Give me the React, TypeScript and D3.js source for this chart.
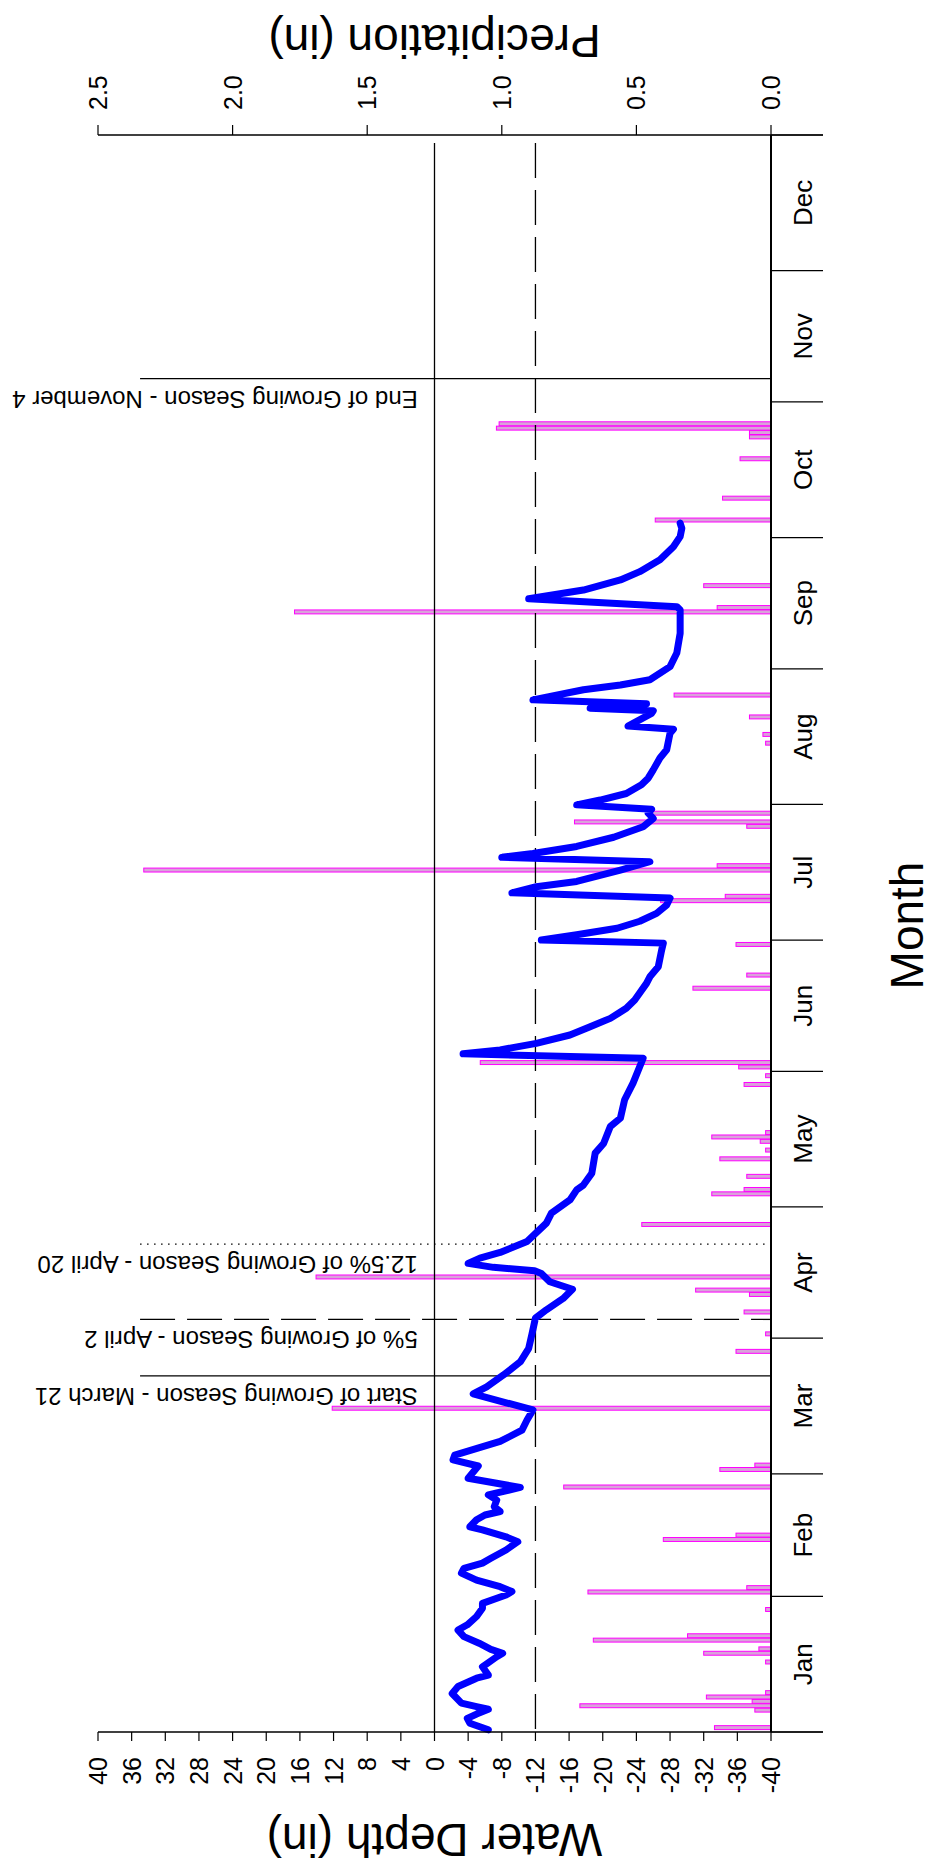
import { useEffect, useRef } from "react";
import * as d3 from "d3";

const months = ["Jan", "Feb", "Mar", "Apr", "May", "Jun", "Jul", "Aug", "Sep", "Oct", "Nov", "Dec"];
const depthTicks = [40, 36, 32, 28, 24, 20, 16, 12, 8, 4, 0, -4, -8, -12, -16, -20, -24, -28, -32, -36, -40];
const precipTicks = [0, 0.5, 1.0, 1.5, 2.0, 2.5];

// water depth line, day of year (0 = Jan 1) and depth in inches
const depthDays = [
  0.5, 2.0, 3.1, 4.1, 5.2, 5.8, 6.6, 8.8, 10.4, 12.3, 13.0, 14.9, 17.2, 18.0, 18.9, 20.3, 21.8, 23.3, 24.5, 26.4,
  28.3, 29.4, 31.3, 32.1, 33.2, 34.7, 36.3, 37.4, 38.6, 39.7, 41.6, 43.5, 44.6, 46.2, 46.9, 48.5, 49.6, 50.4, 51.5, 53.0,
  54.2, 55.9, 58.0, 60.8, 62.2, 63.3, 66.4, 69.0, 71.3, 73.6, 77.3, 78.9, 81.6, 84.6, 87.7, 91.1, 94.6, 96.5, 99.1, 101.2,
  102.9, 104.8, 105.4, 106.2, 107.1, 108.3, 109.6, 112.1, 116.3, 118.6, 121.6, 123.9, 125.0, 127.7, 132.3, 134.5, 138.4, 140.3, 144.5, 148.3,
  154.0, 155.0, 155.9, 157.4, 159.3, 161.2, 163.1, 165.4, 167.3, 171.1, 172.6, 174.9, 178.7, 180.3, 181.0, 182.2, 183.7, 185.3, 187.1, 189.0,
  190.6, 191.8, 193.2, 194.4, 197.0, 198.9, 199.9, 200.8, 202.4, 204.5, 206.9, 208.8, 210.0, 210.9, 211.9, 213.0, 214.5, 216.5, 218.0, 219.9,
  222.6, 224.5, 228.3, 229.2, 229.9, 232.8, 233.4, 234.0, 235.0, 235.9, 238.2, 239.3, 240.5, 243.5, 246.6, 251.1, 256.5, 257.2, 259.0, 261.0,
  263.3, 265.2, 267.9, 270.9, 273.2, 275.1, 276.3,
];
const depthValues = [
  -6.4, -4.2, -3.9, -5.0, -6.4, -5.0, -3.2, -2.1, -2.8, -5.0, -6.4, -5.7, -7.4, -8.1, -6.7, -5.3, -3.5, -2.8, -3.9, -5.0,
  -5.7, -5.7, -8.5, -9.2, -7.8, -5.0, -3.2, -3.5, -5.7, -6.7, -8.5, -9.9, -8.5, -5.7, -4.2, -5.0, -6.0, -7.8, -7.1, -7.4,
  -6.4, -10.2, -4.0, -5.2, -2.2, -2.4, -7.8, -10.4, -11.0, -11.7, -4.6, -6.2, -8.2, -10.2, -11.2, -11.6, -12.0, -13.3, -15.3, -16.4,
  -13.7, -12.7, -11.9, -7.0, -4.0, -5.4, -7.8, -11.0, -13.3, -13.9, -16.1, -16.9, -17.7, -18.7, -19.1, -20.1, -20.9, -22.1, -22.6, -23.6,
  -24.8, -3.4, -7.8, -12.1, -16.1, -18.5, -20.9, -22.8, -23.8, -25.2, -25.6, -26.6, -27.0, -27.2, -12.7, -16.9, -21.7, -24.4, -26.4, -27.6,
  -28.0, -9.2, -12.1, -16.9, -22.1, -25.6, -8.0, -11.7, -16.9, -21.3, -24.8, -26.0, -25.4, -25.8, -16.9, -19.7, -22.8, -24.6, -25.4, -26.0,
  -26.8, -27.6, -28.0, -28.4, -23.0, -25.8, -26.0, -18.5, -25.2, -11.7, -17.7, -22.1, -25.6, -28.0, -28.8, -29.2, -29.2, -28.8, -11.2, -17.7,
  -22.1, -24.4, -26.8, -28.4, -29.2, -29.4, -29.2,
];

// daily precipitation, day of year and inches
const rainDays = [
  1, 5, 6, 7, 8, 9, 16, 18, 19, 21, 22, 28, 32, 33, 44, 45, 56, 60, 61, 74,
  87, 91, 96, 100, 101, 104, 116, 123, 124, 127, 131, 133, 135, 136, 137, 148, 150, 152, 153, 170,
  173, 180, 190, 191, 197, 198, 207, 208, 210, 226, 228, 232, 237, 256, 257, 262, 277, 282, 291, 296,
  297, 298, 299,
];
const rainInches = [
  0.21, 0.06, 0.71, 0.07, 0.24, 0.02, 0.02, 0.25, 0.045, 0.66, 0.31, 0.02, 0.68, 0.09, 0.40, 0.13, 0.77, 0.19, 0.06, 1.63,
  0.13, 0.02, 0.10, 0.08, 0.28, 1.69, 0.48, 0.22, 0.10, 0.09, 0.19, 0.02, 0.04, 0.22, 0.02, 0.10, 0.02, 0.12, 1.08, 0.29,
  0.09, 0.13, 0.41, 0.17, 2.33, 0.20, 0.09, 0.73, 0.44, 0.02, 0.03, 0.08, 0.36, 1.77, 0.20, 0.25, 0.43, 0.18, 0.115, 0.08,
  0.08, 1.02, 1.01,
];

const seasonLabels = [
  "Start of Growing Season - March 21",
  "5% of Growing Season - April 2",
  "12.5% of Growing Season - April 20",
  "End of Growing Season - November 4",
];
const seasonDays = [81.4, 94.3, 111.5, 309.3];
const seasonDash = ["none", "35,12", "1.5,5.5", "none"];

const W = 933;
const H = 1867;
const FONT = "'Liberation Sans', Arial, Helvetica, sans-serif";
const DAY0 = Date.UTC(2023, 0, 1);
const toDate = (d: number) => new Date(DAY0 + d * 86400000);

const App = () => {
  const ref = useRef<SVGSVGElement | null>(null);

  useEffect(() => {
    const svg = d3.select(ref.current);
    svg.selectAll("*").remove();

    // the chart is laid on its side: months run up the page, depth runs left to right
    const left = 98;
    const right = 771;
    const top = 135;
    const bottom = 1732;
    const tickEnd = 823;

    const y = d3
      .scaleUtc()
      .domain([new Date(DAY0), new Date(Date.UTC(2024, 0, 1))])
      .range([bottom, top]);
    const xDepth = d3.scaleLinear().domain([40, -40]).range([left, right]);
    const xRain = d3.scaleLinear().domain([0, 2.5]).range([right, left]);

    const g = svg.append("g").attr("font-family", FONT);

    // precipitation bars
    const bars = rainDays.map((d, i) => ({ d, p: rainInches[i] }));
    g.append("g")
      .selectAll("rect")
      .data(bars)
      .join("rect")
      .attr("x", (b) => xRain(b.p))
      .attr("width", (b) => xRain(0) - xRain(b.p))
      .attr("y", (b) => y(toDate(b.d + 0.45)))
      .attr("height", (b) => y(toDate(b.d - 0.45)) - y(toDate(b.d + 0.45)))
      .attr("fill", "#d9a3d9")
      .attr("stroke", "#ff00ff")
      .attr("stroke-width", 1);

    // reference depths
    g.append("line")
      .attr("x1", xDepth(0))
      .attr("x2", xDepth(0))
      .attr("y1", top + 8)
      .attr("y2", bottom)
      .attr("stroke", "#000")
      .attr("stroke-width", 1.3);
    g.append("line")
      .attr("x1", xDepth(-12))
      .attr("x2", xDepth(-12))
      .attr("y1", top + 8)
      .attr("y2", bottom)
      .attr("stroke", "#000")
      .attr("stroke-width", 1.3)
      .attr("stroke-dasharray", "35,12");

    // growing season markers
    const season = seasonDays.map((d, i) => ({ d, label: seasonLabels[i], dash: seasonDash[i] }));
    g.append("g")
      .selectAll("line")
      .data(season)
      .join("line")
      .attr("x1", xDepth(35))
      .attr("x2", right)
      .attr("y1", (s) => y(toDate(s.d)))
      .attr("y2", (s) => y(toDate(s.d)))
      .attr("stroke", "#000")
      .attr("stroke-width", 1.3)
      .attr("stroke-dasharray", (s) => s.dash);
    g.append("g")
      .selectAll("text")
      .data(season)
      .join("text")
      .attr("transform", (s) => `translate(${xDepth(2)},${y(toDate(s.d)) + 12}) rotate(180)`)
      .attr("text-anchor", "start")
      .attr("font-size", 24)
      .text((s) => s.label);

    // water depth line
    const pts = depthDays.map((d, i) => [d, depthValues[i]] as [number, number]);
    const line = d3
      .line<[number, number]>()
      .x((p) => xDepth(p[1]))
      .y((p) => y(toDate(p[0])));
    g.append("path")
      .attr("d", line(pts))
      .attr("fill", "none")
      .attr("stroke", "#0000ff")
      .attr("stroke-width", 7)
      .attr("stroke-linejoin", "round")
      .attr("stroke-linecap", "round");

    // axis lines
    const axes = g.append("g").attr("stroke", "#000");
    axes.append("line").attr("x1", left).attr("x2", tickEnd).attr("y1", top).attr("y2", top).attr("stroke-width", 1.5);
    axes.append("line").attr("x1", left).attr("x2", tickEnd).attr("y1", bottom).attr("y2", bottom).attr("stroke-width", 1.5);
    axes.append("line").attr("x1", right).attr("x2", right).attr("y1", top).attr("y2", bottom).attr("stroke-width", 2);

    // month ticks and labels
    const bounds = d3.utcMonth.range(new Date(DAY0), new Date(Date.UTC(2024, 0, 2)));
    axes
      .selectAll("line.month")
      .data(bounds)
      .join("line")
      .attr("class", "month")
      .attr("x1", right)
      .attr("x2", tickEnd)
      .attr("y1", (d) => y(d))
      .attr("y2", (d) => y(d))
      .attr("stroke-width", 1.2);
    const mids = months.map((m, i) => ({
      m,
      at: (y(bounds[i]) + y(bounds[i + 1])) / 2,
    }));
    g.append("g")
      .selectAll("text")
      .data(mids)
      .join("text")
      .attr("transform", (d) => `translate(812,${d.at}) rotate(-90)`)
      .attr("text-anchor", "middle")
      .attr("font-size", 26)
      .text((d) => d.m);

    // depth ticks and labels
    axes
      .selectAll("line.depth")
      .data(depthTicks)
      .join("line")
      .attr("class", "depth")
      .attr("x1", (v) => xDepth(v))
      .attr("x2", (v) => xDepth(v))
      .attr("y1", bottom)
      .attr("y2", bottom + 9)
      .attr("stroke-width", 1.2);
    g.append("g")
      .selectAll("text")
      .data(depthTicks)
      .join("text")
      .attr("transform", (v) => `translate(${xDepth(v)},${bottom + 25}) rotate(-90)`)
      .attr("text-anchor", "end")
      .attr("dy", "0.36em")
      .attr("font-size", 25)
      .text((v) => String(v));

    // precipitation ticks and labels
    axes
      .selectAll("line.rain")
      .data(precipTicks)
      .join("line")
      .attr("class", "rain")
      .attr("x1", (v) => xRain(v))
      .attr("x2", (v) => xRain(v))
      .attr("y1", top)
      .attr("y2", top - 10)
      .attr("stroke-width", 1.2);
    g.append("g")
      .selectAll("text")
      .data(precipTicks)
      .join("text")
      .attr("transform", (v) => `translate(${xRain(v)},${top - 25}) rotate(-90)`)
      .attr("text-anchor", "start")
      .attr("dy", "0.36em")
      .attr("font-size", 25)
      .text((v) => d3.format(".1f")(v));

    // titles
    const mid = (left + right) / 2;
    g.append("text")
      .attr("transform", `translate(${mid},25) rotate(180)`)
      .attr("text-anchor", "middle")
      .attr("font-size", 46)
      .text("Precipitation (in)");
    g.append("text")
      .attr("transform", `translate(${mid},1824) rotate(180)`)
      .attr("text-anchor", "middle")
      .attr("font-size", 46)
      .text("Water Depth (in)");
    g.append("text")
      .attr("transform", `translate(923,${(top + bottom) / 2 - 8}) rotate(-90)`)
      .attr("text-anchor", "middle")
      .attr("font-size", 46)
      .text("Month");
  }, []);

  return (
    <svg
      ref={ref}
      width={W}
      height={H}
      style={{ position: "absolute", left: 0, top: 0, background: "#fff" }}
    />
  );
};

export default App;
